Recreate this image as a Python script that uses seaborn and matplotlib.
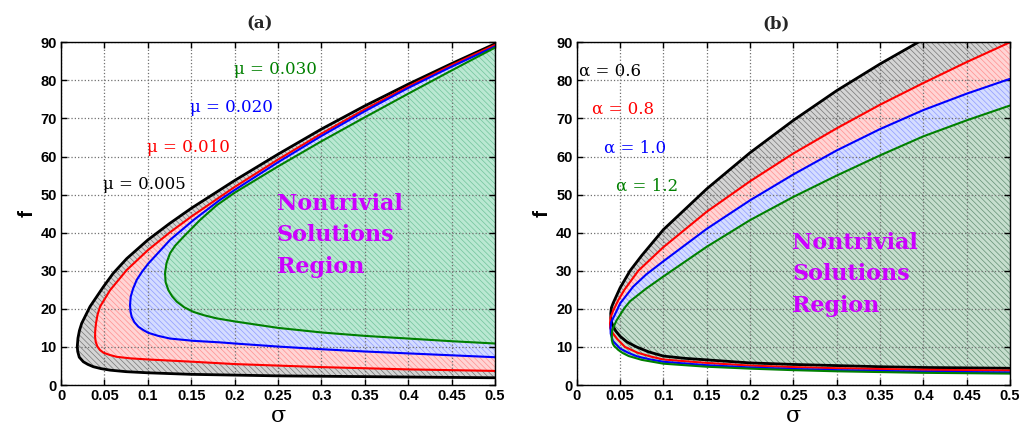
import numpy as np
import pandas as pd
import seaborn as sns
from matplotlib import pyplot as plt

# boundary points (sigma, f), traced from the upper end at sigma=0.5,
# round the tip, back along the lower branch to sigma=0.5

# panel (a): mu = 0.005, 0.010, 0.020, 0.030
mu005 = [(0.5, 89.6), (0.45, 84.4), (0.4, 79.0), (0.35, 73.3), (0.3, 67.2), (0.25, 60.6),
         (0.2, 53.7), (0.15, 46.4), (0.125, 42.4), (0.1, 38.1), (0.0757, 33.2),
         (0.06, 29.3), (0.0488, 25.8), (0.0334, 20.6), (0.0238, 16.2), (0.0212, 14.3),
         (0.0195, 12.3), (0.0187, 10.1), (0.0192, 8.8), (0.0210, 7.3), (0.0257, 6.1),
         (0.031, 5.4), (0.0372, 4.8), (0.046, 4.3), (0.0565, 3.9), (0.075, 3.5),
         (0.1006, 3.2), (0.15, 2.8), (0.2, 2.6), (0.25, 2.4), (0.3, 2.3), (0.35, 2.2),
         (0.4, 2.1), (0.45, 2.0), (0.5, 1.9)]
mu010 = [(0.5, 89.3), (0.45, 84.0), (0.4, 78.4), (0.35, 72.4), (0.3, 66.0), (0.25, 59.2),
         (0.2, 52.0), (0.15, 44.2), (0.125, 40.0), (0.1, 35.4), (0.0757, 30.2),
         (0.0565, 24.9), (0.045, 20.6), (0.0420, 18.4), (0.0403, 16.2), (0.0394, 14.3),
         (0.0392, 12.7), (0.0400, 11.3), (0.0419, 10.1), (0.0448, 9.2), (0.0488, 8.5),
         (0.056, 7.9), (0.0641, 7.4), (0.08, 7.0), (0.1006, 6.7), (0.1525, 6.1),
         (0.2, 5.5), (0.25, 5.1), (0.3, 4.7), (0.35, 4.4), (0.4, 4.1), (0.45, 3.9),
         (0.5, 3.7)]
mu020 = [(0.5, 88.9), (0.45, 83.6), (0.4, 78.0), (0.35, 71.9), (0.3, 65.4), (0.25, 58.5),
         (0.2, 51.2), (0.183, 48.6), (0.1525, 43.3), (0.1256, 38.1), (0.1006, 31.9),
         (0.0935, 29.8), (0.0872, 27.6), (0.083, 25.3), (0.0803, 23.2), (0.0795, 21.0),
         (0.0800, 19.4), (0.0814, 17.9), (0.0845, 16.5), (0.0891, 15.3), (0.095, 14.4),
         (0.1006, 13.7), (0.112, 12.9), (0.1256, 12.2), (0.1525, 11.6), (0.183, 11.2),
         (0.2, 10.9), (0.25, 10.1), (0.3, 9.4), (0.35, 8.8), (0.4, 8.3), (0.45, 7.8),
         (0.5, 7.3)]
mu030 = [(0.5, 88.6), (0.45, 82.6), (0.4, 76.5), (0.35, 70.3), (0.3, 64.0), (0.25, 57.4),
         (0.2, 50.5), (0.1793, 47.2), (0.160, 43.3), (0.141, 38.9), (0.1315, 36.6),
         (0.1256, 34.6), (0.1215, 32.0), (0.1198, 29.3), (0.1205, 27.0), (0.1237, 24.9),
         (0.128, 23.3), (0.1333, 21.9), (0.142, 20.4), (0.1525, 19.2), (0.165, 18.3),
         (0.1793, 17.5), (0.2, 16.7), (0.25, 15.0), (0.3, 13.8), (0.35, 12.9),
         (0.4, 12.2), (0.45, 11.5), (0.5, 10.9)]

# panel (b): alpha = 0.6, 0.8, 1.0, 1.2
al06 = [(0.5, 102.0), (0.45, 96.5), (0.394, 90.0), (0.35, 84.3), (0.3, 77.3), (0.25, 69.5),
        (0.2, 61.0), (0.15, 51.5), (0.1, 40.8), (0.075, 34.0), (0.0615, 30.0), (0.05, 25.5),
        (0.0442, 22.6), (0.042, 21.5), (0.040, 20.3), (0.0392, 18.8),
        (0.0394, 17.5), (0.0405, 16.3), (0.0422, 15.3), (0.045, 14.2), (0.05, 12.8),
        (0.058, 11.3), (0.069, 10.0), (0.083, 8.7), (0.1, 7.6), (0.125, 7.0), (0.15, 6.6),
        (0.2, 5.8), (0.25, 5.4), (0.3, 5.1), (0.35, 4.8), (0.4, 4.6), (0.45, 4.5),
        (0.5, 4.4)]
al08 = [(0.5, 90.0), (0.45, 84.8), (0.4, 79.3), (0.35, 73.6), (0.3, 67.4), (0.25, 60.8),
        (0.2, 53.5), (0.15, 45.5), (0.1, 36.2), (0.071, 30.0), (0.055, 25.0), (0.048, 22.3),
        (0.042, 19.5), (0.039, 17.8), (0.0384, 16.2),
        (0.0386, 15.0), (0.040, 14.2), (0.042, 13.5), (0.047, 12.0), (0.0557, 10.0),
        (0.07, 8.5), (0.085, 7.5), (0.1, 6.7), (0.15, 5.8), (0.2, 5.1), (0.25, 4.7),
        (0.3, 4.4), (0.35, 4.2), (0.4, 4.0), (0.45, 3.9), (0.5, 3.8)]
al10 = [(0.5, 80.4), (0.45, 76.5), (0.4, 72.2), (0.35, 67.2), (0.3, 61.6), (0.25, 55.3),
        (0.2, 48.5), (0.15, 41.0), (0.1, 32.5), (0.08, 29.0), (0.065, 25.8), (0.05, 21.4),
        (0.043, 18.0), (0.0397, 16.5), (0.039, 14.9),
        (0.0392, 13.5), (0.0405, 12.4), (0.042, 11.5), (0.05, 9.6), (0.06, 8.4),
        (0.07, 7.5), (0.085, 6.7), (0.1, 6.1), (0.15, 5.2), (0.2, 4.6), (0.25, 4.2),
        (0.3, 3.9), (0.35, 3.7), (0.4, 3.5), (0.45, 3.4), (0.5, 3.3)]
al12 = [(0.5, 73.4), (0.45, 69.5), (0.4, 65.3), (0.35, 60.3), (0.3, 55.0), (0.25, 49.4),
        (0.2, 43.3), (0.15, 36.3), (0.1, 28.5), (0.08, 25.3), (0.0615, 22.0), (0.055, 20.2),
        (0.05, 18.4), (0.046, 17.0), (0.043, 15.5), (0.041, 14.4), (0.0404, 13.1),
        (0.0405, 11.8), (0.0415, 10.9), (0.043, 10.3), (0.048, 9.2), (0.053, 8.4),
        (0.06, 7.6), (0.075, 6.6), (0.1, 5.6), (0.15, 4.8), (0.2, 4.3), (0.25, 3.9),
        (0.3, 3.6), (0.35, 3.4), (0.4, 3.2), (0.45, 3.1), (0.5, 3.0)]

labels_a = ['\u03bc = 0.005', '\u03bc = 0.010', '\u03bc = 0.020', '\u03bc = 0.030']
labels_b = ['\u03b1 = 0.6', '\u03b1 = 0.8', '\u03b1 = 1.0', '\u03b1 = 1.2']

line_colors = ['black', '#ff0000', '#0000ff', '#008000']
face_a = ['#d4d4d4', '#ffd4d4', '#d4dcff', '#bae8d2']
hatch_a = ['#777777', '#ff9090', '#909cff', '#72c49c']
face_b = ['#d4d4d4', '#ffd4d4', '#d4dcff', '#c6dece']
hatch_b = ['#777777', '#ff9090', '#909cff', '#638f74']

sns.set_style('ticks')
plt.rcParams['hatch.linewidth'] = 0.5

fig = plt.figure(figsize=(10.31, 4.25), dpi=100, facecolor='white')
ax_a = fig.add_axes([0.0592, 0.0941, 0.4209, 0.8064])
ax_b = fig.add_axes([0.5594, 0.0941, 0.4202, 0.8064])


def draw_panel(ax, curves, faces, hatches):
    for pts, fc, hc in zip(curves, faces, hatches):
        xy = np.array(pts)
        ax.fill(xy[:, 0], xy[:, 1], facecolor=fc, edgecolor=hc,
                hatch='\\\\\\\\\\\\', linewidth=0, zorder=1)
    for pts, col in zip(curves, line_colors):
        df = pd.DataFrame(pts, columns=['sigma', 'f'])
        sns.lineplot(data=df, x='sigma', y='f', sort=False, estimator=None,
                     color=col, lw=2.0 if col == 'black' else 1.5, ax=ax, zorder=3)

    ax.set_xlim(0, 0.5)
    ax.set_ylim(0, 90)
    ax.set_xticks(np.arange(0, 0.51, 0.05))
    ax.set_xticklabels(['0', '0.05', '0.1', '0.15', '0.2', '0.25', '0.3', '0.35',
                        '0.4', '0.45', '0.5'])
    ax.set_yticks(np.arange(0, 91, 10))
    ax.set_axisbelow(False)
    ax.grid(True, linestyle=':', color='#707070', lw=0.9, zorder=2)
    ax.tick_params(direction='in', length=4, width=1, top=True, right=True,
                   labelsize=10.5, pad=3, colors='black')
    for lab in ax.get_xticklabels() + ax.get_yticklabels():
        lab.set_family('Liberation Sans')
        lab.set_fontweight('bold')
        lab.set_color('black')
    for s in ax.spines.values():
        s.set_linewidth(1.0)
        s.set_color('black')
        s.set_zorder(5)
    ax.set_xlabel('\u03c3', family='DejaVu Serif', fontsize=16, labelpad=1, color='black')
    ax.set_ylabel('f', family='Liberation Sans', fontweight='bold', fontsize=15,
                  labelpad=3, color='black')


draw_panel(ax_a, [mu005, mu010, mu020, mu030], face_a, hatch_a)
draw_panel(ax_b, [al06, al08, al10, al12], face_b, hatch_b)

pos_a = [(0.0956, 52.7), (0.1467, 62.5), (0.1966, 72.9), (0.2465, 82.9)]
for (x, y), txt, col in zip(pos_a, labels_a, line_colors):
    ax_a.text(x, y, txt, color=col, family='DejaVu Serif', fontsize=12,
              ha='center', va='center', zorder=6)

pos_b = [(0.0384, 82.4), (0.053, 72.4), (0.0673, 62.3), (0.0815, 52.2)]
for (x, y), txt, col in zip(pos_b, labels_b, line_colors):
    ax_b.text(x, y, txt, color=col, family='DejaVu Serif', fontsize=12,
              ha='center', va='center', zorder=6)

ax_a.text(0.2485, 39.3, 'Nontrivial\nSolutions\nRegion', color='#cc00ff',
          family='DejaVu Serif', fontweight='bold', fontsize=16, linespacing=1.55,
          ha='left', va='center', zorder=6)
ax_b.text(0.249, 29.1, 'Nontrivial\nSolutions\nRegion', color='#cc00ff',
          family='DejaVu Serif', fontweight='bold', fontsize=16, linespacing=1.55,
          ha='left', va='center', zorder=6)

fig.text(260 / 1031, 1 - 24 / 425, '(a)', family='DejaVu Serif', fontweight='bold',
         fontsize=12, ha='center', va='center')
fig.text(776 / 1031, 1 - 24 / 425, '(b)', family='DejaVu Serif', fontweight='bold',
         fontsize=12, ha='center', va='center')

fig.savefig('out.png', dpi=100, facecolor='white')
